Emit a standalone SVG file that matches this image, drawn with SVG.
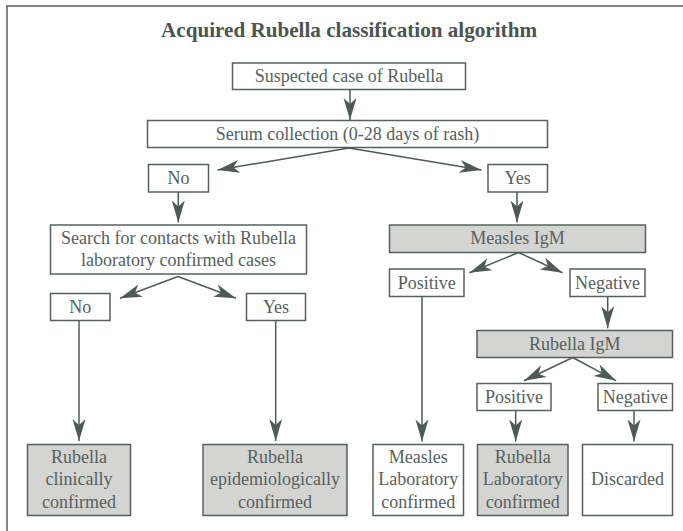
<svg xmlns="http://www.w3.org/2000/svg" width="683" height="531" viewBox="0 0 683 531">
<defs>
<style>
.box{fill:#ffffff;stroke:#56615c;stroke-width:1.5}
.gray{fill:#d4d4d2;stroke:#56615c;stroke-width:1.5}
.t{font-family:"Liberation Serif","Times New Roman",serif;font-size:18px;fill:#56615c;text-anchor:middle}
.title{font-family:"Liberation Serif","Times New Roman",serif;font-size:21px;font-weight:bold;fill:#4a5550;text-anchor:middle}
.c{fill:none;stroke:#4f5a56;stroke-width:1.5}
</style>
<marker id="ah" viewBox="-24 -7 25 14" refX="0" refY="0" markerWidth="25" markerHeight="14" markerUnits="userSpaceOnUse" orient="auto">
<path d="M0,0 L-22,-6.5 L-16,0 L-22,6.5 Z" fill="#4f5a56"/>
</marker>
</defs>
<rect width="683" height="531" fill="#ffffff"/>
<path d="M7,531 V6 H683" fill="none" stroke="#56615c" stroke-width="1.5"/>
<text class="title" x="349" y="37" textLength="376" lengthAdjust="spacingAndGlyphs">Acquired Rubella classification algorithm</text>

<g id="n-suspected"><rect class="box" x="232.5" y="63" width="233" height="26.5"/><text class="t" x="349" y="82">Suspected case of Rubella</text></g>
<g id="n-serum"><rect class="box" x="147.5" y="120.5" width="400" height="27"/><text class="t" x="347.5" y="140">Serum collection (0-28 days of rash)</text></g>
<g id="n-no1"><rect class="box" x="148.5" y="164.5" width="60" height="27.5"/><text class="t" x="178.5" y="184">No</text></g>
<g id="n-yes1"><rect class="box" x="488" y="164.5" width="59.5" height="27.5"/><text class="t" x="517.7" y="184">Yes</text></g>
<g id="n-search"><rect class="box" x="50.5" y="225" width="256" height="49"/><text class="t" x="178.5" y="243.5">Search for contacts with Rubella</text><text class="t" x="178.5" y="266">laboratory confirmed cases</text></g>
<g id="n-no2"><rect class="box" x="50.5" y="293.5" width="59.5" height="27"/><text class="t" x="80.2" y="313">No</text></g>
<g id="n-yes2"><rect class="box" x="246.5" y="293.5" width="59" height="27"/><text class="t" x="276" y="313">Yes</text></g>
<g id="n-measlesigm"><rect class="gray" x="389.5" y="225" width="256" height="27.5"/><text class="t" x="517.5" y="244">Measles IgM</text></g>
<g id="n-pos1"><rect class="box" x="389.5" y="269" width="74.5" height="27.5"/><text class="t" x="426.7" y="288.5">Positive</text></g>
<g id="n-neg1"><rect class="box" x="570" y="269" width="75" height="27.5"/><text class="t" x="607.5" y="288.5">Negative</text></g>
<g id="n-rubellaigm"><rect class="gray" x="477" y="330.5" width="195.5" height="27"/><text class="t" x="574.7" y="350">Rubella IgM</text></g>
<g id="n-pos2"><rect class="box" x="477" y="383.5" width="74" height="27"/><text class="t" x="514" y="403">Positive</text></g>
<g id="n-neg2"><rect class="box" x="598" y="383.5" width="74.5" height="27"/><text class="t" x="635.2" y="403">Negative</text></g>
<g id="n-clin"><rect class="gray" x="27.5" y="444.5" width="103" height="71"/><text class="t" x="79" y="463">Rubella</text><text class="t" x="79" y="485.3">clinically</text><text class="t" x="79" y="507.6">confirmed</text></g>
<g id="n-epi"><rect class="gray" x="203" y="444.5" width="144" height="71"/><text class="t" x="275" y="463">Rubella</text><text class="t" x="275" y="485.3">epidemiologically</text><text class="t" x="275" y="507.6">confirmed</text></g>
<g id="n-measleslab"><rect class="box" x="373" y="444.5" width="90.5" height="71"/><text class="t" x="418.2" y="463">Measles</text><text class="t" x="418.2" y="485.3">Laboratory</text><text class="t" x="418.2" y="507.6">confirmed</text></g>
<g id="n-rubellalab"><rect class="gray" x="477.5" y="444.5" width="90.5" height="71"/><text class="t" x="522.7" y="463">Rubella</text><text class="t" x="522.7" y="485.3">Laboratory</text><text class="t" x="522.7" y="507.6">confirmed</text></g>
<g id="n-discarded"><rect class="box" x="582.5" y="444.5" width="90" height="71"/><text class="t" x="627.5" y="485.3">Discarded</text></g>

<g id="connectors">
<path class="c" marker-end="url(#ah)" d="M350,89.5 V120"/>
<path class="c" marker-end="url(#ah)" d="M349,148 L217.5,170"/>
<path class="c" marker-end="url(#ah)" d="M349,148 L481.5,170"/>
<path class="c" marker-end="url(#ah)" d="M178.3,192 V222.5"/>
<path class="c" marker-end="url(#ah)" d="M517,192 V222.5"/>
<path class="c" marker-end="url(#ah)" d="M178,276.5 L120,298.3"/>
<path class="c" marker-end="url(#ah)" d="M178,276.5 L236,298.3"/>
<path class="c" marker-end="url(#ah)" d="M79,320.5 V441"/>
<path class="c" marker-end="url(#ah)" d="M275.7,320.5 V441"/>
<path class="c" marker-end="url(#ah)" d="M518.5,252.5 L469.5,272.7"/>
<path class="c" marker-end="url(#ah)" d="M518.5,252.5 L562.5,272.7"/>
<path class="c" marker-end="url(#ah)" d="M422,296.5 V441.5"/>
<path class="c" marker-end="url(#ah)" d="M607.7,296.5 V328.3"/>
<path class="c" marker-end="url(#ah)" d="M572.7,357.5 L524,380.7"/>
<path class="c" marker-end="url(#ah)" d="M572.7,357.5 L616,380.7"/>
<path class="c" marker-end="url(#ah)" d="M515.7,410.5 V441.5"/>
<path class="c" marker-end="url(#ah)" d="M634,410.5 V441.5"/>
</g>
</svg>
